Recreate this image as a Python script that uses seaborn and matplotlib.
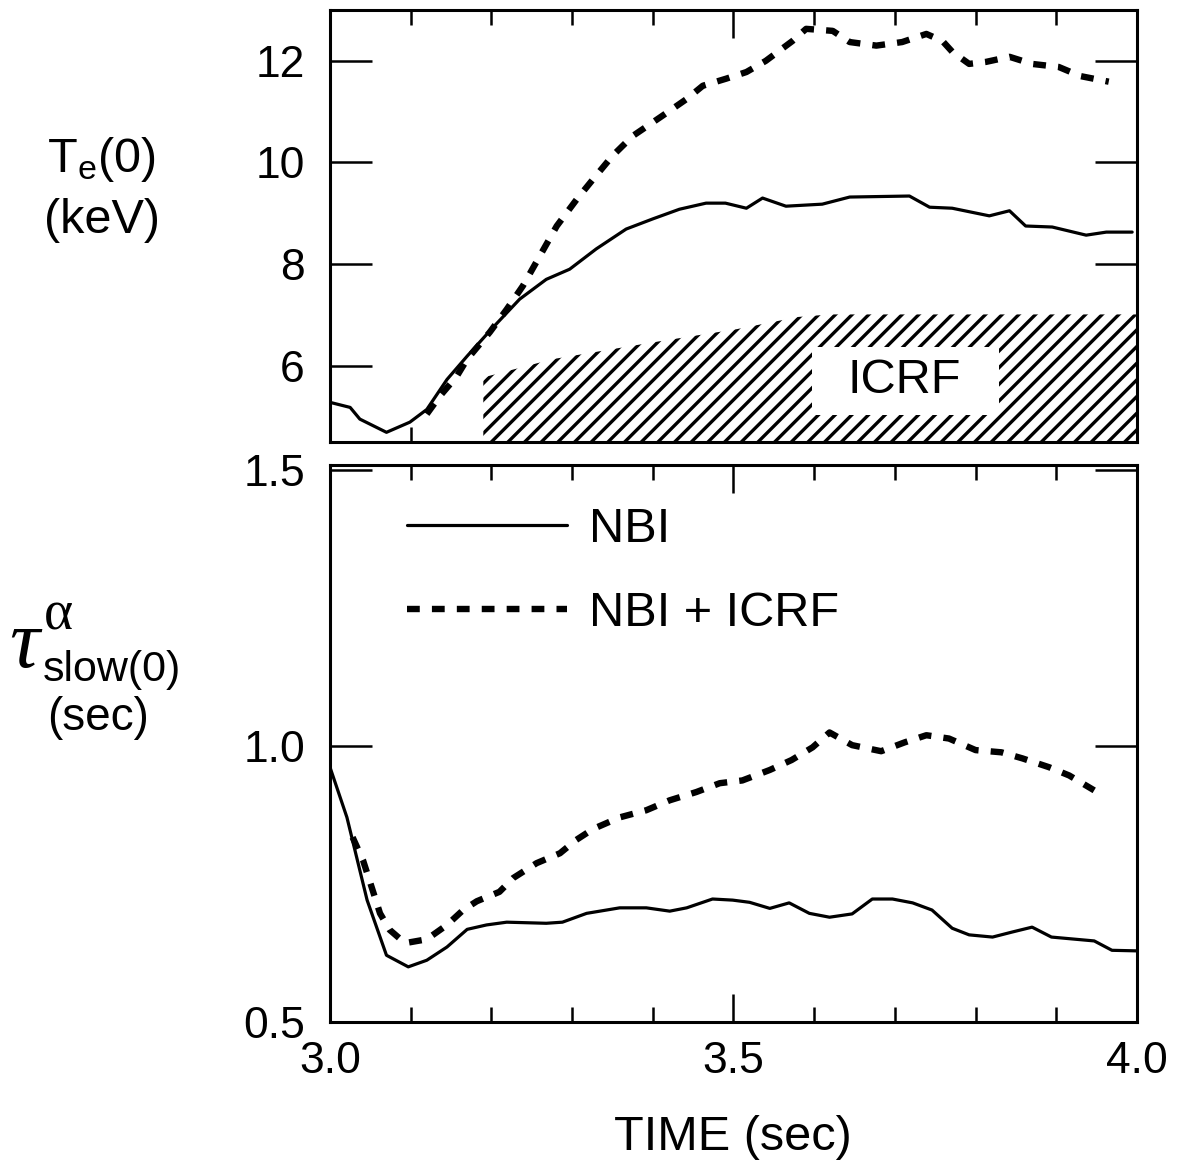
import matplotlib
matplotlib.use('Agg')
import matplotlib.pyplot as plt
import seaborn as sns
from matplotlib.ticker import MultipleLocator

# ---- data ----
# top panel: central electron temperature Te(0) in keV
te_nbi_t = [3.000, 3.025, 3.037, 3.070, 3.099, 3.120, 3.145, 3.170, 3.200, 3.235,
            3.268, 3.297, 3.330, 3.367, 3.400, 3.433, 3.466, 3.490, 3.516, 3.536,
            3.565, 3.610, 3.644, 3.718, 3.743, 3.771, 3.817, 3.842, 3.862, 3.895,
            3.937, 3.962, 3.994]
te_nbi = [5.28, 5.18, 4.95, 4.69, 4.89, 5.14, 5.73, 6.19, 6.72, 7.31,
          7.70, 7.90, 8.30, 8.69, 8.89, 9.08, 9.20, 9.20, 9.10, 9.30,
          9.14, 9.18, 9.32, 9.34, 9.12, 9.10, 8.95, 9.05, 8.75, 8.73,
          8.57, 8.63, 8.63]

te_icrf_t = [3.120, 3.136, 3.157, 3.170, 3.198, 3.219, 3.239, 3.260, 3.281, 3.306,
             3.326, 3.350, 3.375, 3.412, 3.442, 3.462, 3.491, 3.516, 3.540, 3.573,
             3.590, 3.623, 3.644, 3.677, 3.709, 3.739, 3.759, 3.771, 3.792, 3.813,
             3.842, 3.870, 3.903, 3.930, 3.965]
te_icrf = [5.05, 5.40, 5.79, 6.13, 6.66, 7.11, 7.57, 8.16, 8.75, 9.28,
           9.67, 10.13, 10.52, 10.92, 11.25, 11.51, 11.65, 11.78, 12.00, 12.39,
           12.63, 12.59, 12.37, 12.30, 12.37, 12.53, 12.39, 12.18, 11.94, 11.98,
           12.08, 11.94, 11.88, 11.70, 11.59]

# ICRF heating window (hatched band, upper edge)
icrf_t = [3.190, 3.190, 3.276, 3.400, 3.504, 3.580, 3.620, 4.000]
icrf_top = [4.5, 5.77, 6.13, 6.46, 6.72, 6.96, 7.01, 7.01]

# bottom panel: alpha slowing-down time (sec)
tau_nbi_t = [3.000, 3.021, 3.046, 3.070, 3.097, 3.120, 3.145, 3.170, 3.194, 3.219,
             3.268, 3.288, 3.318, 3.359, 3.392, 3.421, 3.442, 3.474, 3.499, 3.520,
             3.545, 3.569, 3.594, 3.619, 3.647, 3.672, 3.697, 3.722, 3.746, 3.771,
             3.792, 3.821, 3.845, 3.870, 3.894, 3.947, 3.969, 3.999]
tau_nbi = [0.962, 0.871, 0.721, 0.621, 0.600, 0.612, 0.636, 0.668, 0.676, 0.681,
           0.679, 0.681, 0.697, 0.707, 0.707, 0.701, 0.707, 0.723, 0.721, 0.717,
           0.706, 0.716, 0.697, 0.690, 0.696, 0.723, 0.723, 0.716, 0.703, 0.670,
           0.658, 0.654, 0.663, 0.672, 0.654, 0.647, 0.630, 0.629]

tau_icrf_t = [3.028, 3.041, 3.050, 3.062, 3.074, 3.093, 3.120, 3.145, 3.165, 3.182,
              3.210, 3.227, 3.256, 3.285, 3.305, 3.326, 3.359, 3.392, 3.421, 3.454,
              3.483, 3.511, 3.545, 3.572, 3.598, 3.619, 3.647, 3.683, 3.712, 3.739,
              3.767, 3.800, 3.832, 3.858, 3.891, 3.916, 3.947]
tau_icrf = [0.835, 0.793, 0.752, 0.697, 0.667, 0.643, 0.650, 0.676, 0.703, 0.719,
            0.736, 0.761, 0.788, 0.806, 0.830, 0.850, 0.871, 0.884, 0.902, 0.917,
            0.933, 0.938, 0.957, 0.975, 0.998, 1.025, 1.002, 0.991, 1.007, 1.020,
            1.014, 0.993, 0.989, 0.978, 0.962, 0.947, 0.920]

labels = ['NBI', 'NBI + ICRF']
x_ticks = [3.0, 3.5, 4.0]
x_ticklabels = ['3.0', '3.5', '4.0']
te_ticks = [6, 8, 10, 12]
tau_ticks = [0.5, 1.0, 1.5]
tau_ticklabels = ['0.5', '1.0', '1.5']

# ---- style ----
sns.set_style('white')
plt.rcParams['font.family'] = ['Liberation Sans', 'DejaVu Sans']
plt.rcParams['mathtext.fontset'] = 'custom'
plt.rcParams['mathtext.rm'] = 'Liberation Sans'
plt.rcParams['mathtext.it'] = 'Liberation Sans:italic'
plt.rcParams['hatch.linewidth'] = 2.4
plt.rcParams['axes.linewidth'] = 2.2
for key in ['text.color', 'axes.labelcolor', 'xtick.color', 'ytick.color',
            'axes.edgecolor', 'hatch.color']:
    plt.rcParams[key] = 'black'

dash = (0, (2.0, 1.9))
solid_lw = 2.3
dash_lw = 4.6

fig = plt.figure(figsize=(11.84, 11.68), dpi=100)
ax1 = fig.add_axes([0.2787, 0.6216, 0.6816, 0.3698])
ax2 = fig.add_axes([0.2787, 0.1250, 0.6816, 0.4769])


def style_axes(ax):
    ax.set_xlim(3.0, 4.0)
    ax.set_xticks(x_ticks)
    ax.xaxis.set_minor_locator(MultipleLocator(0.1))
    ax.tick_params(axis='x', which='major', direction='in', length=20, width=1.8,
                   top=True, bottom=True, labelsize=32, pad=14)
    ax.tick_params(axis='x', which='minor', direction='in', length=10.5, width=1.8,
                   top=True, bottom=True)
    ax.tick_params(axis='y', which='major', direction='in', length=30, width=1.8,
                   left=True, right=True, labelsize=32, pad=18)
    for s in ax.spines.values():
        s.set_color('black')
        s.set_linewidth(2.2)
    ax.set_xlabel('')
    ax.set_ylabel('')


# ---- top panel ----
ax1.fill_between(icrf_t, 4.5, icrf_top, facecolor='white', edgecolor='black',
                 hatch='//', linewidth=0, zorder=1)
sns.lineplot(x=te_nbi_t, y=te_nbi, ax=ax1, color='black', linewidth=solid_lw,
             sort=False, estimator=None, zorder=3)
sns.lineplot(x=te_icrf_t, y=te_icrf, ax=ax1, color='black', linewidth=dash_lw,
             linestyle=dash, sort=False, estimator=None, zorder=3)
style_axes(ax1)
ax1.set_ylim(4.5, 13.0)
ax1.set_yticks(te_ticks)
ax1.tick_params(axis='x', labelbottom=False)
ax1.add_patch(plt.Rectangle((3.597, 5.03), 0.232, 1.34, facecolor='white',
                            edgecolor='none', zorder=2))
ax1.text(3.712, 5.70, 'ICRF', fontsize=35, ha='center', va='center', zorder=4)

# ---- bottom panel ----
sns.lineplot(x=tau_nbi_t, y=tau_nbi, ax=ax2, color='black', linewidth=solid_lw,
             sort=False, estimator=None, label=labels[0])
sns.lineplot(x=tau_icrf_t, y=tau_icrf, ax=ax2, color='black', linewidth=dash_lw,
             linestyle=dash, sort=False, estimator=None, label=labels[1])
style_axes(ax2)
ax2.set_ylim(0.5, 1.51)
ax2.set_yticks(tau_ticks)
ax2.set_yticklabels(tau_ticklabels)
ax2.set_xticklabels(x_ticklabels)
ax2.legend(loc='upper left', bbox_to_anchor=(0.095, 0.925), frameon=False,
           fontsize=35, handlelength=3.3, handletextpad=0.45, labelspacing=0.8,
           borderpad=0, borderaxespad=0)

# ---- axis titles ----
fig.text(0.619, 1 - 1150 / 1168, 'TIME (sec)', fontsize=35, ha='center',
         va='baseline')
fig.text(0.086, 1 - 172 / 1168, r'$\mathrm{T_e(0)}$', fontsize=35, ha='center',
         va='baseline')
fig.text(0.086, 1 - 233 / 1168, '(keV)', fontsize=35, ha='center', va='baseline')
fig.text(0.008, 1 - 667 / 1168, 'τ', family='Liberation Serif', style='italic',
         fontsize=60, ha='left', va='baseline')
fig.text(0.049, 1 - 630 / 1168, 'α', family='Liberation Serif', fontsize=40,
         ha='center', va='baseline')
fig.text(0.036, 1 - 681 / 1168, 'slow(0)', fontsize=31, ha='left', va='baseline')
fig.text(0.083, 1 - 730 / 1168, '(sec)', fontsize=33, ha='center', va='baseline')

fig.savefig('out.png', dpi=100)
